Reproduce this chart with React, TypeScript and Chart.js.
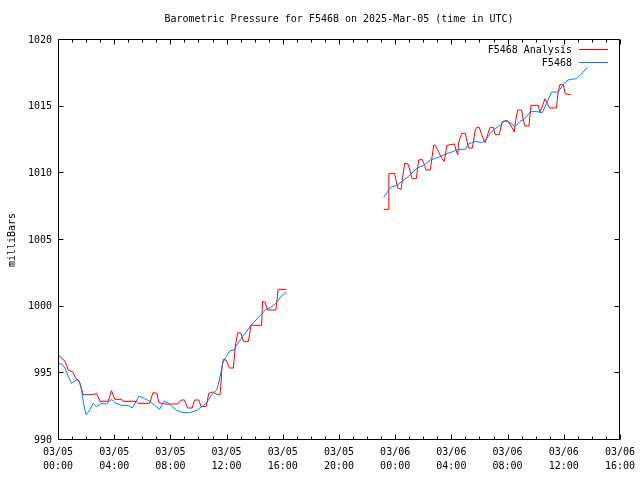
import React, { useEffect, useRef } from "react";
import { Chart, registerables } from "chart.js";

Chart.register(...registerables);

const TITLE = "Barometric Pressure for F5468 on 2025-Mar-05 (time in UTC)";
const Y_TITLE = "milliBars";
const FONT = "'DejaVu Sans Mono', 'Liberation Mono', monospace";

// x axis: hours since 03/05 00:00 UTC
const xTickDates = ["03/05", "03/05", "03/05", "03/05", "03/05", "03/05", "03/06", "03/06", "03/06", "03/06", "03/06"];
const xTickTimes = ["00:00", "04:00", "08:00", "12:00", "16:00", "20:00", "00:00", "04:00", "08:00", "12:00", "16:00"];
const yTickValues = [990, 995, 1000, 1005, 1010, 1015, 1020];

const seriesLabels = ["F5468 Analysis", "F5468"];
const seriesColors = ["#ff0000", "#0080ff"];

const analysisHours = [
  0.0, 0.14, 0.5, 0.73, 1.04, 1.28, 1.44, 1.56, 1.79, 2.5, 2.74, 2.98, 3.57, 3.81, 4.04, 4.52, 4.63, 5.58, 5.7, 6.52,
  6.76, 7.04, 7.18, 7.59, 8.53, 8.77, 9.0, 9.23, 9.55, 9.72, 10.02, 10.19, 10.55, 10.73, 11.01, 11.37, 11.54, 11.68,
  11.77, 11.96, 12.2, 12.48, 12.62, 12.79, 13.03, 13.19, 13.55, 13.74, 14.49, 14.56, 14.75, 14.91, 15.51, 15.67, 16.26,
  20,
  23.19, 23.5, 23.55, 23.71, 23.95, 24.18, 24.42, 24.54, 24.68, 24.91, 25.09, 25.2, 25.51, 25.67, 25.91, 26.1, 26.19,
  26.5, 26.74, 26.86, 27.09, 27.33, 27.5, 27.68, 28.23, 28.32, 28.46, 28.51, 28.74, 28.99, 29.22, 29.5, 29.7, 29.81,
  29.98, 30.16, 30.4, 30.64, 30.76, 30.99, 31.11, 31.4, 31.63, 32.0, 32.25, 32.48, 32.57, 32.72, 33.0, 33.12, 33.24,
  33.52, 33.67, 34.18, 34.3, 34.42, 34.66, 34.94, 35.01, 35.48, 35.6, 35.72, 35.96, 36.12, 36.5,
];
const analysisValues = [
  996.45, 996.25, 995.9, 995.25, 995.1, 994.6, 994.5, 994.25, 993.4, 993.4, 993.5, 992.9, 992.9, 993.7, 993.05, 993.05,
  992.9, 992.9, 992.75, 992.75, 993.55, 993.5, 992.8, 992.7, 992.7, 993.0, 993.0, 992.4, 992.4, 993.0, 993.0, 992.5,
  992.5, 993.5, 993.6, 993.4, 993.4, 995.5, 996.05, 996.0, 995.4, 995.4, 997.0, 998.05, 998.0, 997.4, 997.4, 998.6,
  998.6, 1000.4, 1000.3, 999.75, 999.75, 1001.3, 1001.3,
  null,
  1007.3, 1007.3, 1009.95, 1010.0, 1010.0, 1008.9, 1008.8, 1009.75, 1010.75, 1010.7, 1010.1, 1009.6, 1009.6, 1011.0,
  1011.05, 1010.6, 1010.25, 1010.25, 1012.1, 1012.1, 1011.6, 1011.1, 1010.9, 1012.1, 1012.2, 1011.75, 1011.4, 1012.3,
  1013.0, 1013.0, 1011.9, 1011.9, 1013.25, 1013.45, 1013.45, 1012.9, 1012.3, 1013.1, 1013.45, 1013.45, 1012.9, 1012.9,
  1013.9, 1013.95, 1013.55, 1013.1, 1013.9, 1014.75, 1014.75, 1014.0, 1013.55, 1013.55, 1015.1, 1015.1, 1014.6,
  1014.85, 1015.6, 1015.0, 1014.9, 1014.9, 1016.1, 1016.65, 1016.65, 1015.95, 1015.9,
];

const stationHours = [
  0.0, 0.26, 0.5, 0.73, 0.97, 1.13, 1.33, 1.51, 1.68, 1.79, 1.99, 2.27, 2.5, 2.74, 3.1, 3.45, 3.81, 4.04, 4.52, 4.99,
  5.3, 5.77, 6.17, 6.52, 6.88, 7.23, 7.54, 7.82, 8.13, 8.42, 8.89, 9.36, 9.84, 10.3, 10.55, 11.01, 11.3, 11.49, 11.72,
  11.96, 12.25, 12.55, 12.72, 13.14, 13.74, 14.09, 14.45, 14.8, 15.16, 15.51, 15.87, 16.26,
  20,
  23.19, 23.67, 24.13, 24.61, 25.09, 25.55, 26.03, 26.5, 27.09, 27.57, 28.04, 28.51, 28.99, 29.22, 29.7, 30.16, 30.52,
  30.76, 30.99, 31.47, 31.82, 32.18, 32.53, 32.89, 33.24, 33.6, 33.95, 34.47, 34.77, 35.13, 35.6, 36.03, 36.31, 36.55,
  36.9, 37.26, 37.68,
];
const stationValues = [
  995.75, 995.7, 995.4, 994.75, 994.25, 994.4, 994.5, 994.45, 993.75, 992.9, 991.9, 992.25, 992.75, 992.5, 992.75,
  992.7, 993.05, 992.8, 992.6, 992.6, 992.4, 993.3, 993.1, 992.9, 992.6, 992.3, 992.9, 992.8, 992.5, 992.25, 992.05,
  992.05, 992.2, 992.55, 992.75, 993.5, 993.75, 994.5, 995.75, 996.25, 996.7, 996.75, 997.1, 997.75, 998.6, 999.0,
  999.4, 999.8, 999.95, 1000.25, 1000.75, 1001.1,
  null,
  1008.2, 1008.95, 1009.1, 1009.5, 1009.9, 1010.4, 1010.6, 1011.0, 1011.2, 1011.45, 1011.6, 1011.8, 1011.8, 1012.2,
  1012.4, 1012.3, 1012.6, 1013.0, 1013.25, 1013.6, 1013.95, 1013.8, 1013.5, 1013.9, 1014.1, 1014.6, 1014.65, 1014.55,
  1015.25, 1016.1, 1016.1, 1016.75, 1017.0, 1017.05, 1017.1, 1017.45, 1017.95,
];

const toPoints = (xs: number[], ys: (number | null)[]) => xs.map((x, i) => ({ x, y: ys[i] }));

const gnuplotFrame = {
  id: "gnuplotFrame",
  afterDatasetsDraw(chart: any) {
    const { ctx, chartArea: a, scales } = chart;
    const xs = scales.x;
    const ys = scales.y;
    const L = Math.round(a.left) + 0.5;
    const R = Math.round(a.right) - 0.5;
    const T = Math.round(a.top) - 0.5;
    const B = Math.round(a.bottom) - 0.5;
    ctx.save();
    ctx.strokeStyle = "#000";
    ctx.lineWidth = 1;
    ctx.beginPath();
    ctx.rect(L, T, R - L, B - T);
    // y ticks (inward, mirrored)
    ys.ticks.forEach((t: any) => {
      const py = Math.round(ys.getPixelForValue(t.value)) - 0.5;
      ctx.moveTo(L, py);
      ctx.lineTo(L + 5, py);
      ctx.moveTo(R, py);
      ctx.lineTo(R - 5, py);
    });
    // x ticks: major every 4 h, minor every hour
    for (let h = xs.min; h <= xs.max; h += 1) {
      const px = Math.round(xs.getPixelForValue(h)) + 0.5;
      const len = h % 4 === 0 ? 5 : 3;
      ctx.moveTo(px, B);
      ctx.lineTo(px, B - len);
      ctx.moveTo(px, T);
      ctx.lineTo(px, T + len);
    }
    ctx.stroke();

    ctx.fillStyle = "#000";
    ctx.font = `10px ${FONT}`;
    // title
    ctx.textAlign = "center";
    ctx.textBaseline = "middle";
    ctx.fillText(TITLE, (a.left + a.right) / 2, 19);
    // y title
    ctx.save();
    ctx.translate(12, (a.top + a.bottom) / 2);
    ctx.rotate(-Math.PI / 2);
    ctx.fillText(Y_TITLE, 0, 0);
    ctx.restore();
    // legend
    chart.data.datasets.forEach((ds: any, i: number) => {
      const rowY = Math.round(a.top + 10 + i * 12.5) - 0.5;
      ctx.textAlign = "right";
      ctx.fillStyle = "#000";
      ctx.fillText(ds.label, a.right - 48, rowY + 0.5);
      ctx.strokeStyle = ds.borderColor;
      ctx.beginPath();
      ctx.moveTo(a.right - 41, rowY);
      ctx.lineTo(a.right - 12, rowY);
      ctx.stroke();
    });
    ctx.restore();
  },
};

export default function App() {
  const canvasRef = useRef<HTMLCanvasElement | null>(null);

  useEffect(() => {
    if (!canvasRef.current) return;
    const chart = new Chart(canvasRef.current, {
      type: "line",
      data: {
        datasets: [
          {
            label: seriesLabels[0],
            data: toPoints(analysisHours, analysisValues),
            borderColor: seriesColors[0],
            backgroundColor: seriesColors[0],
            borderWidth: 1,
            pointRadius: 0,
            tension: 0,
            spanGaps: false,
            order: 1,
          },
          {
            label: seriesLabels[1],
            data: toPoints(stationHours, stationValues),
            borderColor: seriesColors[1],
            backgroundColor: seriesColors[1],
            borderWidth: 1,
            pointRadius: 0,
            tension: 0,
            spanGaps: false,
            order: 0,
          },
        ],
      },
      options: {
        animation: false,
        responsive: false,
        devicePixelRatio: 1,
        layout: { padding: { top: 40, right: 18, bottom: 0, left: 0 } },
        plugins: {
          legend: { display: false },
          title: { display: false },
          tooltip: { enabled: false },
        },
        scales: {
          x: {
            type: "linear",
            min: 0,
            max: 40,
            grid: { display: false, drawTicks: false },
            border: { display: false },
            afterFit: (s: any) => {
              s.height = 40;
            },
            ticks: {
              stepSize: 4,
              autoSkip: false,
              maxRotation: 0,
              padding: 5,
              color: "#000",
              font: { family: FONT, size: 10, lineHeight: 1.4 },
              callback: (v: any) => {
                const i = Math.round(Number(v) / 4);
                return [xTickDates[i], xTickTimes[i]];
              },
            },
          },
          y: {
            type: "linear",
            min: yTickValues[0],
            max: yTickValues[yTickValues.length - 1],
            grid: { display: false, drawTicks: false },
            border: { display: false },
            afterFit: (s: any) => {
              s.width = 58;
            },
            afterBuildTicks: (s: any) => {
              s.ticks = yTickValues.map((v) => ({ value: v }));
            },
            ticks: {
              padding: 6,
              color: "#000",
              font: { family: FONT, size: 10 },
              callback: (v: any) => String(v),
            },
          },
        },
      },
      plugins: [gnuplotFrame],
    });
    return () => chart.destroy();
  }, []);

  return (
    <div style={{ position: "absolute", left: 0, top: 0, width: 640, height: 480, background: "#fff" }}>
      <canvas ref={canvasRef} width={640} height={480} style={{ display: "block" }} />
    </div>
  );
}
